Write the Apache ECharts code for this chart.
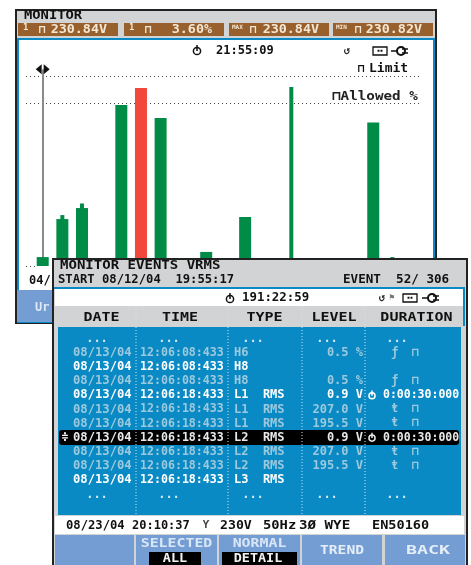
<!DOCTYPE html>
<html><head><meta charset="utf-8">
<script src="https://cdn.jsdelivr.net/npm/echarts@6/dist/echarts.min.js"></script>
<style>html,body{margin:0;padding:0;background:#fff}#c{width:471px;height:565px;filter:blur(0.45px)}</style>
</head><body><div id="c"></div>
<script>
const wideHarmonics=[1,2,3,5,6,7,9.32,11.3,17.82];
const widePercent=[4.7,24.7,30.5,84.7,93.7,77.9,7.4,25.8,75.5];
const overLimitHarmonic=6;
const narrowHarmonics=[2,3,13.65,18.79];
const narrowPercent=[26.8,32.9,94.2,4.7];
const limitPercent=100, allowedPercent=85.8, cursorHarmonic=1;
const readoutTags=['1','1','MAX','MIN'];
const readoutValues=['230.84V','3.60%','230.84V','230.82V'];
const columnTitles=['DATE','TIME','TYPE','LEVEL','DURATION'];
const eventDates=['08/13/04','08/13/04','08/13/04','08/13/04','08/13/04','08/13/04','08/13/04','08/13/04','08/13/04','08/13/04'];
const eventTimes=['12:06:08:433','12:06:08:433','12:06:08:433','12:06:18:433','12:06:18:433','12:06:18:433','12:06:18:433','12:06:18:433','12:06:18:433','12:06:18:433'];
const eventTypes=['H6','H8','H8','L1  RMS','L1  RMS','L1  RMS','L2  RMS','L2  RMS','L2  RMS','L3  RMS'];
const eventLevels=['0.5 %','','0.5 %','0.9 V','207.0 V','195.5 V','0.9 V','207.0 V','195.5 V',''];
const eventDurations=['ƒ  ⊓','','ƒ  ⊓','0:00:30:000','ŧ  ⊓','ŧ  ⊓','0:00:30:000','ŧ  ⊓','ŧ  ⊓',''];
const eventBright=[0,1,0,1,0,0,1,0,0,1];
const selectedRow=6;
const softkeys=[[''],['SELECTED','ALL'],['NORMAL','DETAIL'],['TREND'],['BACK']];

const MONO='"DejaVu Sans Mono",monospace';
const GRAY='#d1d3d4',BLUE='#0a8ac4',KEY='#739dd3',BROWN='#97602c',DIM='#9cc9dd',INK='#111';
const g=[];
function rect(x,y,w,h,fill,z){g.push({type:'rect',shape:{x,y,width:w,height:h},style:{fill},z,silent:true});}
function text(x,y,t,size,fill,z,align,sx){g.push({type:'text',x,y,z,silent:true,scaleX:sx||1,style:{text:t,fill,font:'bold '+size+'px '+MONO,textAlign:align||'left',textVerticalAlign:'middle'}});}
function dots(x1,y1,x2,y2,z,col){g.push({type:'line',z,silent:true,shape:{x1,y1,x2,y2},style:{stroke:col,lineWidth:1,lineDash:[1,2]}});}
function clock(x,y,col,z,s){
  s=s||1;
  g.push({type:'circle',z,silent:true,shape:{cx:x,cy:y+1,r:3.6*s},style:{fill:'none',stroke:col,lineWidth:1.5}});
  g.push({type:'line',z,silent:true,shape:{x1:x,y1:y-5*s,x2:x,y2:y+1},style:{stroke:col,lineWidth:1.5}});
}
function plug(x,y,z){
  g.push({type:'line',z,silent:true,shape:{x1:x,y1:y,x2:x+6,y2:y},style:{stroke:INK,lineWidth:1.5}});
  g.push({type:'circle',z,silent:true,shape:{cx:x+10,cy:y,r:4},style:{fill:'none',stroke:INK,lineWidth:2}});
  g.push({type:'line',z,silent:true,shape:{x1:x+11,y1:y-2,x2:x+17,y2:y-2},style:{stroke:INK,lineWidth:1.5}});
  g.push({type:'line',z,silent:true,shape:{x1:x+11,y1:y+2,x2:x+17,y2:y+2},style:{stroke:INK,lineWidth:1.5}});
}
function battery(x,y,w,z){
  g.push({type:'rect',z,silent:true,shape:{x,y:y-4,width:w,height:8},style:{fill:'none',stroke:INK,lineWidth:1.3}});
  text(x+w/2,y,'▪▪',5,INK,z,'center');
}

/* back panel, below the bars */
rect(15,9,422,315,'#222',0);
rect(17,11,418,28,GRAY,0);
rect(17,38,418,285,BLUE,0);
rect(19,40,414,250,'#fff',0);
rect(17,290,418,32,KEY,0);
text(24,16.5,'MONITOR',11.5,INK,1,'left',1.2);
const boxX=[18,124,229,333], boxRight=[107,212,319,422], tagX=[23,129,232,336], capX=[39,145,250,355];
readoutValues.forEach((v,i)=>{
  rect(boxX[i],23,100,13,BROWN,1);
  text(tagX[i],i<2?28:27,readoutTags[i],i<2?9:6,'#f4e7d6',1);
  text(capX[i],30,'⊓',11,'#f4e7d6',1);
  text(boxRight[i],30,v,12.5,'#f4e7d6',1,'right',1.07);
});
clock(197,50,INK,1);
text(216,51,'21:55:09',12,INK,1);
text(347,51,'↺',11,'#333',1,'center');
battery(373,51,14,1);
plug(391,51,1);
text(358,69,'⊓',11,INK,1);
text(369,69,'Limit',13,INK,1);
text(332,97,'⊓Allowed %',12.5,'#222',1,'left',1.14);
text(29,281,'04/',12,INK,1);
text(35,308,'Ur',12,'#dfe8f5',1);

/* front panel, above the bars */
const Z=100;
rect(52,258,416,307,'#222',Z);
rect(54,260,412,305,GRAY,Z);
rect(54,287,411,2,BLUE,Z);
rect(55,289,409,17,'#fff',Z);
rect(463,289,2,37,BLUE,Z);
text(60,265.5,'MONITOR EVENTS VRMS',11.7,INK,Z+1,'left',1.2);
text(58,279.5,'START 08/12/04  19:55:17',12.2,INK,Z+1);
text(343,279.5,'EVENT  52/ 306',12.6,INK,Z+1);
clock(230,298,INK,Z+1);
text(242,298,'191:22:59',12.4,INK,Z+1);
text(382,298,'↺',11,'#333',Z+1,'center');
text(392,298,'⚑',9,'#777',Z+1,'center');
battery(403,298,14,Z+1);
plug(422,298,Z+1);

const colCenter=[101.5,180,264.5,334,416.5];
columnTitles.forEach((t,i)=>text(colCenter[i],318,t,12.3,INK,Z+1,'center',1.22));
rect(58,327,403,188,BLUE,Z);
[136,228,302,365].forEach(x=>{dots(x,306,x,515,Z+2,'#cfe4ef');});

const rowY=i=>353+i*14.1;
function dotsRow(y){
  [97,169,253,327,397].forEach(x=>text(x,y,'...',12,'#d5e8f1',Z+1,'center'));
}
dotsRow(338.5);dotsRow(494.5);
g.push({type:'rect',z:Z+1,silent:true,shape:{x:59,y:rowY(selectedRow)-7.5,width:400,height:15,r:3},style:{fill:'#000'}});
eventDates.forEach((d,i)=>{
  const y=rowY(i),sel=i===selectedRow,col=eventBright[i]?'#fff':DIM,z=Z+2;
  const c=sel?'#e8e8e8':col;
  text(73,y,d,12.2,c,z);
  text(140,y,eventTimes[i],11.6,c,z);
  text(234,y,eventTypes[i],12,c,z);
  text(363,y,eventLevels[i],12,c,z,'right');
  const dur=eventDurations[i];
  if(dur.length>4){clock(372,y-0.5,c,z,0.85);text(383,y,dur,11.5,c,z);}
  else if(dur){text(405,y,dur,11.5,c,z,'center');}
});
text(65,rowY(selectedRow),'≑',11,'#fff',Z+3,'center');

rect(55,516,409,18,'#fff',Z);
text(66,525.5,'08/23/04',12.2,INK,Z+1);
text(132,525.5,'20:10:37',12,INK,Z+1);
text(206,525.5,'Ƴ',11,'#444',Z+1,'center');
text(220,525.5,'230V',12,INK,Z+1,'left',1.1);
text(263,525.5,'50Hz',12,INK,Z+1,'left',1.15);
text(299,525.5,'3Ø WYE',12,INK,Z+1,'left',1.18);
text(372,525.5,'EN50160',12,INK,Z+1,'left',1.13);

const keyX=[[55,79],[136,81],[219,81],[302,80],[385,80]];
softkeys.forEach((k,i)=>{
  rect(keyX[i][0],535,keyX[i][1],30,KEY,Z);
  const cx=keyX[i][0]+keyX[i][1]/2;
  if(k.length===2){
    text(cx-(i===2?0:0),544,k[0],12.2,'#d9e6f6',Z+1,'center',i===1?1.22:1.22);
    rect(i===1?149:222,552,i===1?52:75,13,'#000',Z+1);
    text(i===1?175:258,558.5,k[1],12,'#f2f2f2',Z+1,'center',1.12);
  } else if(k[0]) {
    text(i===3?342:428,551,k[0],12.2,'#e4edf8',Z+1,'center',i===3?1.2:1.5);
  }
});

const chart=echarts.init(document.getElementById('c'),null,{renderer:'canvas'});
const xBase={type:'value',min:0.15,max:20.3,show:false};
chart.setOption({
  animation:false,
  grid:{left:26,right:49,top:66.5,bottom:299},
  xAxis:[Object.assign({},xBase),Object.assign({},xBase)],
  yAxis:{type:'value',min:0,max:105,show:false},
  graphic:{elements:g},
  series:[
    {type:'bar',name:'Harmonics',xAxisIndex:0,barWidth:12,z:3,
     data:wideHarmonics.map((h,i)=>({value:[h,widePercent[i]],itemStyle:{color:h===overLimitHarmonic?'#f2473a':'#008c47'}})),
     markLine:{silent:true,symbol:'none',label:{show:false},animation:false,z:2,
       lineStyle:{color:'#444',type:[1,3],width:1.2},
       data:[{yAxis:limitPercent},{yAxis:allowedPercent},
             [{coord:[0.15,0],lineStyle:{color:'#444',type:[1,3],width:1.2}},{coord:[0.6,0]}],
             [{coord:[cursorHarmonic,0],lineStyle:{color:'#8a8a8a',type:'solid',width:2}},{coord:[cursorHarmonic,103.5]}]]}},
    {type:'bar',name:'Peaks',xAxisIndex:1,barWidth:4,z:3,
     data:narrowHarmonics.map((h,i)=>({value:[h,narrowPercent[i]],itemStyle:{color:'#008c47'}}))}
  ]
});
/* cursor handle at the top of the cursor line */
const p=chart.convertToPixel({xAxisIndex:0,yAxisIndex:0},[cursorHarmonic,103.5]);
g.push({type:'polygon',z:5,silent:true,shape:{points:[[p[0]-1,p[1]-5],[p[0]-1,p[1]+5],[p[0]-7,p[1]]]},style:{fill:'#111'}});
g.push({type:'polygon',z:5,silent:true,shape:{points:[[p[0]+1,p[1]-5],[p[0]+1,p[1]+5],[p[0]+7,p[1]]]},style:{fill:'#111'}});
chart.setOption({graphic:{elements:g}});
</script></body></html>
